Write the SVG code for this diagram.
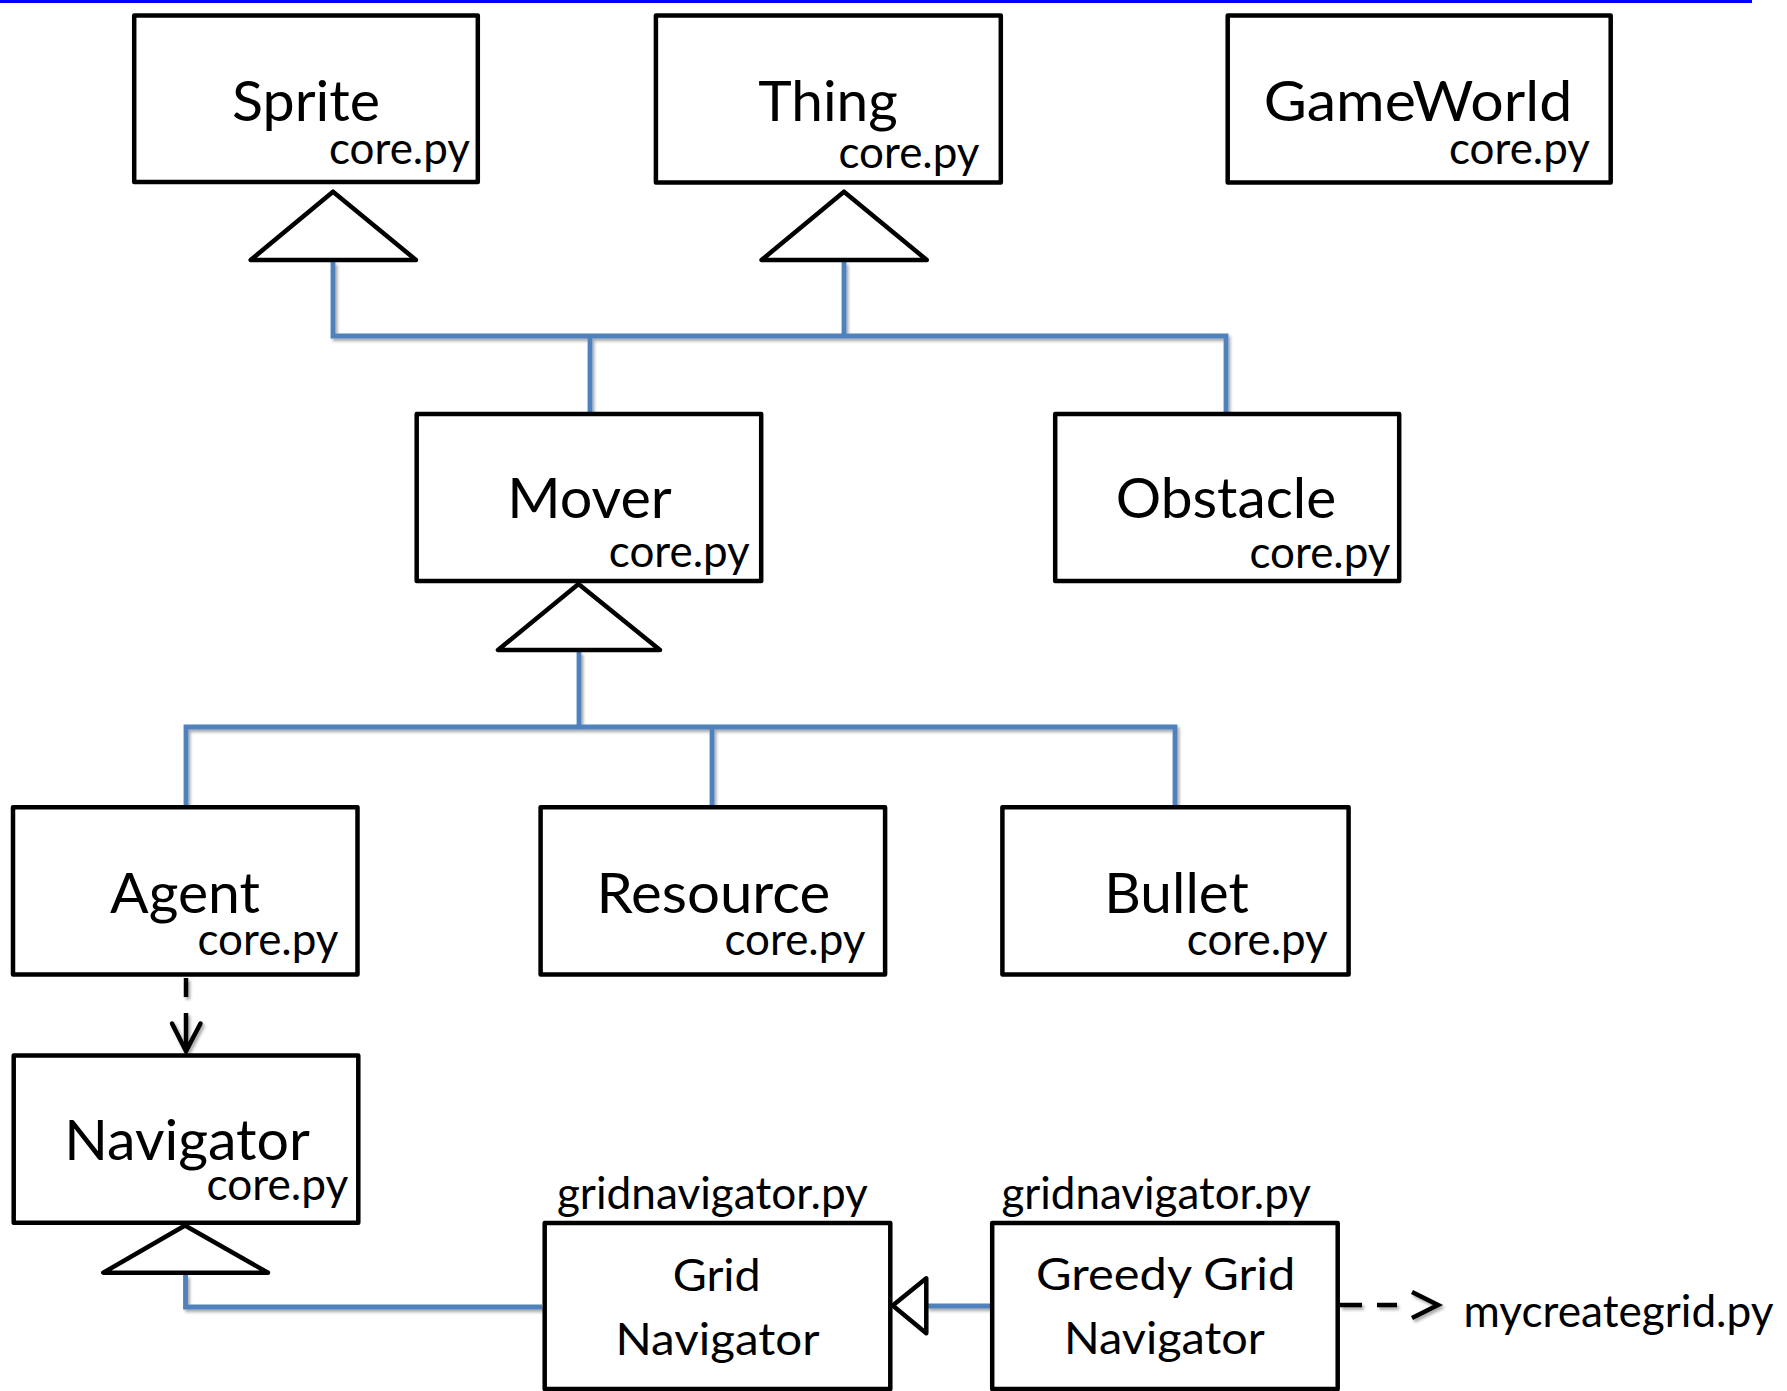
<svg xmlns="http://www.w3.org/2000/svg" width="1787" height="1391" viewBox="0 0 1787 1391">
<style>
  .box { fill: #ffffff; stroke: #000000; stroke-width: 4.5; stroke-linejoin: round; }
  .tri { fill: #ffffff; stroke: #000000; stroke-width: 4.5; stroke-linejoin: round; }
  .inh { fill: none; stroke: #4F81BD; stroke-width: 4.8; stroke-linejoin: miter; }
  .dep { fill: none; stroke: #000000; stroke-width: 4.5; }
  .title { font-family: Lato, "Open Sans", sans-serif; font-size: 56px; fill: #000000; text-anchor: middle; }
  .file { font-family: Lato, "Open Sans", sans-serif; font-size: 44px; fill: #000000; text-anchor: end; }
  .label { font-family: Lato, "Open Sans", sans-serif; font-size: 45px; fill: #000000; text-anchor: middle; }
</style>
<defs>
  <filter id="shadow" x="-5%" y="-20%" width="110%" height="140%">
    <feDropShadow dx="2" dy="2.5" stdDeviation="1.6" flood-color="#000000" flood-opacity="0.35"/>
  </filter>
</defs>
<rect x="0" y="0" width="1787" height="1391" fill="#ffffff"/>
<rect x="0" y="0" width="1752" height="3" fill="#0000FF"/>

<g id="connectors">
  <g filter="url(#shadow)">
    <path class="inh" d="M333,262 V336 H1226 V412"/>
    <path class="inh" d="M844,262 V336"/>
    <path class="inh" d="M590,336 V412"/>
    <path class="inh" d="M579,652 V727"/>
    <path class="inh" d="M186,805 V727 H1175 V805"/>
    <path class="inh" d="M712,727 V805"/>
    <path class="inh" d="M185.5,1275 V1307 H542"/>
    <path class="inh" d="M927,1306 H990"/>
  </g>
  <polygon class="tri" points="333,191.7 250.7,260 416,260"/>
  <polygon class="tri" points="844,191.7 761.6,260 926.8,260"/>
  <polygon class="tri" points="578.5,584 498,650 660,650"/>
  <polygon class="tri" points="185,1225.5 103.3,1272.7 268,1272.7"/>
  <polygon class="tri" points="892.7,1305.5 926.3,1278.3 926.3,1333.3"/>
  <g filter="url(#shadow)">
    <line class="dep" x1="186" y1="978" x2="186" y2="997" stroke-width="4"/>
    <line class="dep" x1="186" y1="1013" x2="186" y2="1048" stroke-width="4"/>
    <polyline class="dep" points="172,1023.5 186,1051 200.5,1023.5" stroke-width="4" stroke-linecap="round" stroke-linejoin="miter"/>
    <line class="dep" x1="1340" y1="1305" x2="1362" y2="1305" stroke-width="5"/>
    <line class="dep" x1="1377" y1="1305" x2="1397" y2="1305" stroke-width="5"/>
    <polyline class="dep" points="1412,1292 1438,1305 1412,1318" stroke-width="6.5" stroke-linejoin="miter"/>
  </g>
</g>

<g id="sprite">
  <rect class="box" x="134.2" y="15.5" width="343.6" height="166.5"/>
  <text class="title" x="306" y="120.7" textLength="148" lengthAdjust="spacingAndGlyphs">Sprite</text>
  <text class="file" x="470" y="164.3" textLength="141" lengthAdjust="spacingAndGlyphs">core.py</text>
</g>
<g id="thing">
  <rect class="box" x="655.9" y="15.5" width="344.9" height="167"/>
  <text class="title" x="828" y="120.7" textLength="139.5" lengthAdjust="spacingAndGlyphs">Thing</text>
  <text class="file" x="979.5" y="168.3" textLength="141" lengthAdjust="spacingAndGlyphs">core.py</text>
</g>
<g id="gameworld">
  <rect class="box" x="1227.7" y="15.5" width="383" height="167"/>
  <text class="title" x="1418" y="120.7" textLength="308.5" lengthAdjust="spacingAndGlyphs">GameWorld</text>
  <text class="file" x="1590" y="164.3" textLength="141" lengthAdjust="spacingAndGlyphs">core.py</text>
</g>
<g id="mover">
  <rect class="box" x="416.7" y="414" width="344.5" height="167"/>
  <text class="title" x="589.5" y="518.3" textLength="164.5" lengthAdjust="spacingAndGlyphs">Mover</text>
  <text class="file" x="749.8" y="566.7" textLength="141" lengthAdjust="spacingAndGlyphs">core.py</text>
</g>
<g id="obstacle">
  <rect class="box" x="1055.2" y="414" width="344" height="167"/>
  <text class="title" x="1226" y="518.3" textLength="220.4" lengthAdjust="spacingAndGlyphs">Obstacle</text>
  <text class="file" x="1390.5" y="568.3" textLength="141" lengthAdjust="spacingAndGlyphs">core.py</text>
</g>
<g id="agent">
  <rect class="box" x="13" y="807.2" width="344.5" height="167.2"/>
  <text class="title" x="185" y="912.7" textLength="150" lengthAdjust="spacingAndGlyphs">Agent</text>
  <text class="file" x="338.5" y="955" textLength="141" lengthAdjust="spacingAndGlyphs">core.py</text>
</g>
<g id="resource">
  <rect class="box" x="540.6" y="807.2" width="344.5" height="167.2"/>
  <text class="title" x="713.4" y="912.7" textLength="233.8" lengthAdjust="spacingAndGlyphs">Resource</text>
  <text class="file" x="865.5" y="955" textLength="141" lengthAdjust="spacingAndGlyphs">core.py</text>
</g>
<g id="bullet">
  <rect class="box" x="1002.4" y="807.2" width="346.2" height="167.2"/>
  <text class="title" x="1176.6" y="912.7" textLength="144.7" lengthAdjust="spacingAndGlyphs">Bullet</text>
  <text class="file" x="1327.8" y="955" textLength="141" lengthAdjust="spacingAndGlyphs">core.py</text>
</g>
<g id="navigator">
  <rect class="box" x="13.7" y="1055.5" width="344.6" height="167.3"/>
  <text class="title" x="187" y="1160" textLength="245.7" lengthAdjust="spacingAndGlyphs">Navigator</text>
  <text class="file" x="348.3" y="1200" textLength="141.8" lengthAdjust="spacingAndGlyphs">core.py</text>
</g>
<g id="gridnavigator">
  <rect class="box" x="544.7" y="1223" width="345.6" height="166"/>
  <text class="label" x="712.4" y="1209" textLength="311" lengthAdjust="spacingAndGlyphs">gridnavigator.py</text>
  <text class="label" x="716.7" y="1290.7" textLength="88" lengthAdjust="spacingAndGlyphs">Grid</text>
  <text class="label" x="717.5" y="1355" textLength="204" lengthAdjust="spacingAndGlyphs">Navigator</text>
</g>
<g id="greedygridnavigator">
  <rect class="box" x="992.2" y="1223" width="345.5" height="166"/>
  <text class="label" x="1156.2" y="1209" textLength="309.5" lengthAdjust="spacingAndGlyphs">gridnavigator.py</text>
  <text class="label" x="1165.7" y="1290" textLength="259.3" lengthAdjust="spacingAndGlyphs">Greedy Grid</text>
  <text class="label" x="1164.4" y="1354" textLength="200.7" lengthAdjust="spacingAndGlyphs">Navigator</text>
</g>
<g id="mycreategrid">
  <text class="label" x="1618.5" y="1326.7" textLength="310" lengthAdjust="spacingAndGlyphs">mycreategrid.py</text>
</g>
</svg>
